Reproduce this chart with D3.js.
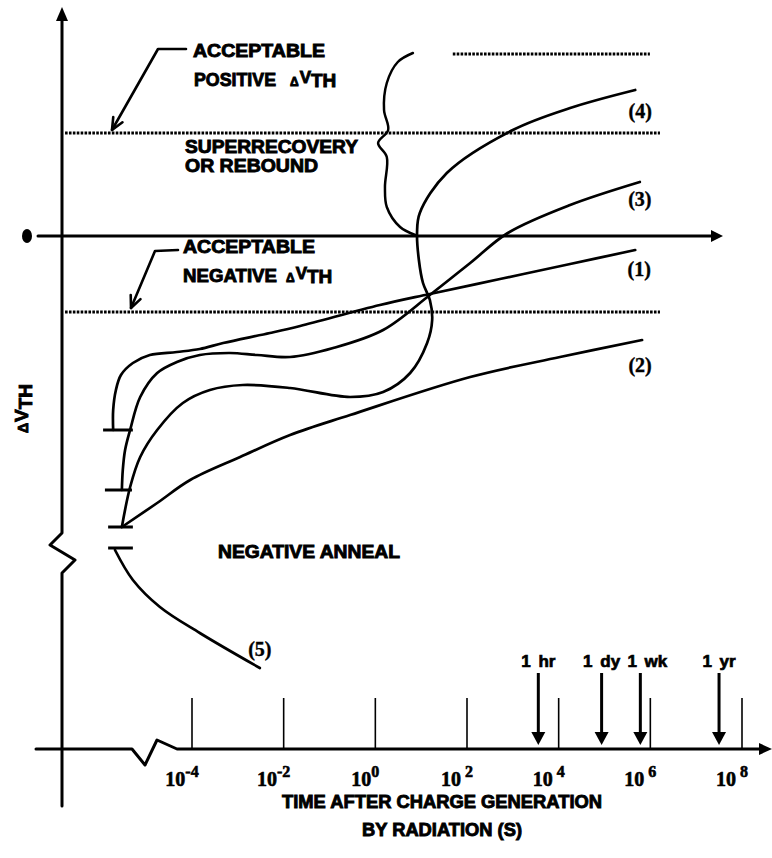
<!DOCTYPE html>
<html>
<head>
<meta charset="utf-8">
<script src="https://cdn.jsdelivr.net/npm/d3@7"></script>
<style>
  body { margin: 0; background: #fff; }
  svg { display: block; }
</style>
</head>
<body>
<svg id="chart" width="772" height="858"></svg>
<script>
// ---- data -------------------------------------------------------------
// Time axis: decade exponents (log10 of seconds) that carry a tick
const decadeTicks = [-4, -2, 0, 2, 4, 6, 8];

// Calendar markers on the time axis, log10 of the time in seconds
const markerLabels = ["1 hr", "1 dy", "1 wk", "1 yr"];
const markerLogT = [3.556, 4.937, 5.782, 7.499];

// Initial shift right after the radiation pulse (arbitrary units) and the
// short log-time span of each starting mark
const initialShift = [-1.94, -2.54, -2.91, -3.12];
const initialStart = [-5.94, -5.90, -5.83, -5.83];
const initialEnd = [-5.29, -5.31, -5.29, -5.29];

// Acceptable threshold-shift limits and the rebound level
const acceptablePositive = 1.03;
const acceptableNegative = -0.76;
const limitSpan = [-6.77, 6.21];
const reboundLevel = 1.82;
const reboundSpan = [1.69, 5.99];

// Recovery curves: [log10 t (s), delta V_TH]
const curve1 = [[-5.72, -1.94], [-5.72, -1.74], [-5.66, -1.54], [-5.55, -1.39], [-5.29, -1.27],
  [-4.92, -1.19], [-4.33, -1.16], [-3.83, -1.13], [-3.32, -1.07], [-2.30, -0.97], [-1.64, -0.90],
  [0.10, -0.69], [1.19, -0.58], [2.72, -0.43], [4.25, -0.28], [5.67, -0.14]];
const curve2 = [[-5.53, -2.91], [-4.76, -2.67], [-4.04, -2.44], [-2.95, -2.21], [-1.86, -1.99],
  [-0.55, -1.79], [2.07, -1.41], [4.03, -1.21], [5.82, -1.04]];
const curve3 = [[-5.53, -2.54], [-5.51, -2.34], [-5.46, -2.14], [-5.35, -1.94], [-5.13, -1.61],
  [-4.76, -1.37], [-4.33, -1.26], [-3.83, -1.19], [-3.17, -1.17], [-2.58, -1.19], [-1.86, -1.21],
  [-0.92, -1.12], [0.17, -0.94], [1.19, -0.59], [2.07, -0.27], [2.89, 0.03], [4.25, 0.31], [5.77, 0.54]];
const curve4 = [[-5.53, -2.91], [-5.35, -2.51], [-5.13, -2.21], [-4.76, -1.94], [-4.20, -1.67],
  [-3.61, -1.54], [-2.89, -1.49], [-1.86, -1.52], [-0.55, -1.61], [0.17, -1.56], [0.76, -1.37],
  [1.13, -1.07], [1.24, -0.84], [1.19, -0.64], [1.04, -0.47], [0.95, -0.24], [0.91, 0.03],
  [0.97, 0.23], [1.56, 0.63], [3.00, 1.06], [4.25, 1.28], [5.67, 1.46]];
const curve5 = [[-5.68, -3.14], [-5.29, -3.44], [-4.70, -3.71], [-3.83, -3.97], [-2.52, -4.32]];
const curveLabels = ["(1)", "(2)", "(3)", "(4)", "(5)"];

// Brace marking the superrecovery region
const brace = [[0.82, 1.83], [0.49, 1.74], [0.25, 1.53], [0.19, 1.26], [0.28, 1.06], [0.06, 0.93],
  [0.25, 0.79], [0.21, 0.49], [0.25, 0.29], [0.54, 0.09], [0.87, 0.01]];

// ---- layout -----------------------------------------------------------
const svg = d3.select("#chart");
const x = d3.scaleLinear().domain([-4, 8]).range([192, 742]);
const y = d3.scaleLinear().domain([-5, 2]).range([736, 36]);

const AXIS_X = 62;     // vertical axis position
const BASE_Y = 749;    // time axis position
const SANS = "'Liberation Sans', Arial, sans-serif";
const SERIF = "'Liberation Serif', 'Times New Roman', serif";

const smooth = d3.line().x(d => x(d[0])).y(d => y(d[1])).curve(d3.curveCatmullRom.alpha(0.5));

const g = svg.append("g").attr("fill", "none").attr("stroke", "#000").attr("stroke-linecap", "round").attr("stroke-linejoin", "round");

// vertical axis with its break
g.append("path").attr("stroke-width", 3)
  .attr("d", `M${AXIS_X},16 L${AXIS_X},533 L50,545 L75,560 L${AXIS_X},573 L${AXIS_X},806`);
svg.append("path").attr("fill", "#000")
  .attr("d", `M${AXIS_X},7 L${AXIS_X - 6},21 L${AXIS_X + 6},21 Z`);

// time axis with its break
g.append("path").attr("stroke-width", 3)
  .attr("d", `M36,${BASE_Y} L132,${BASE_Y} L145,765 L157,740 L177,${BASE_Y} L762,${BASE_Y}`);
svg.append("path").attr("fill", "#000")
  .attr("d", `M772,${BASE_Y} L759,${BASE_Y - 6} L759,${BASE_Y + 6} Z`);

// zero line
g.append("line").attr("stroke-width", 3)
  .attr("x1", 38).attr("x2", 713).attr("y1", y(0)).attr("y2", y(0));
svg.append("path").attr("fill", "#000")
  .attr("d", `M723,${y(0)} L711,${y(0) - 6} L711,${y(0) + 6} Z`);
svg.append("ellipse").attr("cx", 27).attr("cy", y(0)).attr("rx", 5).attr("ry", 7).attr("fill", "#000");

// decade ticks
g.selectAll(".tick").data(decadeTicks).join("line")
  .attr("stroke-width", 1.6).attr("stroke-linecap", "butt")
  .attr("x1", d => x(d)).attr("x2", d => x(d)).attr("y1", 698).attr("y2", BASE_Y);

const tl = svg.append("g").attr("font-family", SERIF).attr("font-weight", "bold").attr("font-size", 20)
  .attr("fill", "#000").attr("stroke", "#000").attr("stroke-width", 0.6);
decadeTicks.forEach(d => {
  const t = tl.append("text").attr("x", x(d) - 10).attr("y", 786).attr("text-anchor", "middle");
  t.append("tspan").text("10");
  t.append("tspan").attr("dy", -9).attr("font-size", 16).attr("dx", d > 0 ? 4 : 0).text(d);
});

// calendar markers
const markerLabelShift = [0, 0, 7, 0];
markerLabels.forEach((lab, i) => {
  const mx = x(markerLogT[i]);
  g.append("line").attr("stroke-width", 3).attr("stroke-linecap", "butt")
    .attr("x1", mx).attr("x2", mx).attr("y1", 673).attr("y2", 734);
  svg.append("path").attr("fill", "#000")
    .attr("d", `M${mx - 7},732 L${mx + 7},732 L${mx},745 Z`);
  svg.append("text").attr("x", mx + markerLabelShift[i]).attr("y", 667).attr("text-anchor", "middle")
    .attr("font-family", SANS).attr("font-weight", "bold").attr("font-size", 17)
    .attr("stroke", "#000").attr("stroke-width", 0.7).attr("word-spacing", 3)
    .text(lab);
});

// limit lines (dotted)
const dotted = g.append("g").attr("stroke-width", 3).attr("stroke-dasharray", "2.6,1.3").attr("stroke-linecap", "butt");
[acceptablePositive, acceptableNegative].forEach(v => {
  dotted.append("line").attr("x1", x(limitSpan[0])).attr("x2", x(limitSpan[1])).attr("y1", y(v)).attr("y2", y(v));
});
dotted.append("line").attr("x1", x(reboundSpan[0])).attr("x2", x(reboundSpan[1]))
  .attr("y1", y(reboundLevel)).attr("y2", y(reboundLevel));

// starting marks
initialShift.forEach((v, i) => {
  g.append("line").attr("stroke-width", 3).attr("stroke-linecap", "butt")
    .attr("x1", x(initialStart[i])).attr("x2", x(initialEnd[i])).attr("y1", y(v)).attr("y2", y(v));
});

// recovery curves
const curves = [curve1, curve2, curve3, curve4, curve5];
curves.forEach(c => g.append("path").attr("stroke-width", 2.7).attr("d", smooth(c)));
g.append("path").attr("stroke-width", 2.5).attr("d", smooth(brace));

// curve labels, placed relative to each curve end
const labelOffset = [[4, 26], [-2, 32], [0, 24], [5, 28], [0, -12]];
const cl = svg.append("g").attr("font-family", SERIF).attr("font-weight", "bold").attr("font-size", 20)
  .attr("text-anchor", "middle").attr("fill", "#000").attr("stroke", "#000").attr("stroke-width", 0.4);
curves.forEach((c, i) => {
  const end = c[c.length - 1];
  cl.append("text").attr("x", x(end[0]) + labelOffset[i][0]).attr("y", y(end[1]) + labelOffset[i][1])
    .text(curveLabels[i]);
});

// captions
const cap = svg.append("g").attr("font-family", SANS).attr("font-weight", "bold").attr("font-size", 18)
  .attr("fill", "#000").attr("stroke", "#000").attr("stroke-width", 0.9);
function caption(str, cx, cy, len, anchor) {
  return cap.append("text").attr("x", cx).attr("y", cy).attr("text-anchor", anchor || "start")
    .attr("textLength", len).attr("lengthAdjust", "spacingAndGlyphs").text(str);
}
function deltaV(cx, cy) {
  const t = cap.append("text").attr("x", cx).attr("y", cy);
  t.append("tspan").attr("font-size", 12).text("\u0394");
  t.append("tspan").attr("font-size", 17).attr("dy", -3).attr("dx", 1).text("V");
  t.append("tspan").attr("font-size", 19).attr("dy", 4).text("TH");
}
caption("ACCEPTABLE", 193, 57, 132);
caption("POSITIVE", 194, 86, 82);
deltaV(290, 86);
caption("SUPERRECOVERY", 185, 153, 173);
caption("OR REBOUND", 185, 172, 133);
caption("ACCEPTABLE", 183, 253, 132);
caption("NEGATIVE", 183, 282, 94);
deltaV(286, 282);
caption("NEGATIVE ANNEAL", 218, 558, 182);
caption("TIME AFTER CHARGE GENERATION", 442, 808, 320, "middle");
caption("BY RADIATION (S)", 442, 836, 160, "middle");

// vertical axis title
const yt = cap.append("text").attr("transform", "translate(28,433) rotate(-90)");
yt.append("tspan").attr("font-size", 14).text("\u0394");
yt.append("tspan").attr("font-size", 19).attr("dx", 1).text("V");
yt.append("tspan").attr("font-size", 19).attr("dy", 4).text("TH");

// leader arrows to the limit lines
function leader(pts) {
  g.append("path").attr("stroke-width", 2.6).attr("d", d3.line()(pts));
  const [px, py] = pts[pts.length - 2], [tx, ty] = pts[pts.length - 1];
  const a = Math.atan2(ty - py, tx - px), L = 13, s = 0.42;
  g.append("path").attr("stroke-width", 2.6)
    .attr("d", `M${tx - L * Math.cos(a - s)},${ty - L * Math.sin(a - s)} L${tx},${ty} L${tx - L * Math.cos(a + s)},${ty - L * Math.sin(a + s)}`);
}
leader([[186, 49], [158, 49], [112, y(acceptablePositive) - 3]]);
leader([[178, 250], [155, 251], [131, y(acceptableNegative) - 4]]);
</script>
</body>
</html>
